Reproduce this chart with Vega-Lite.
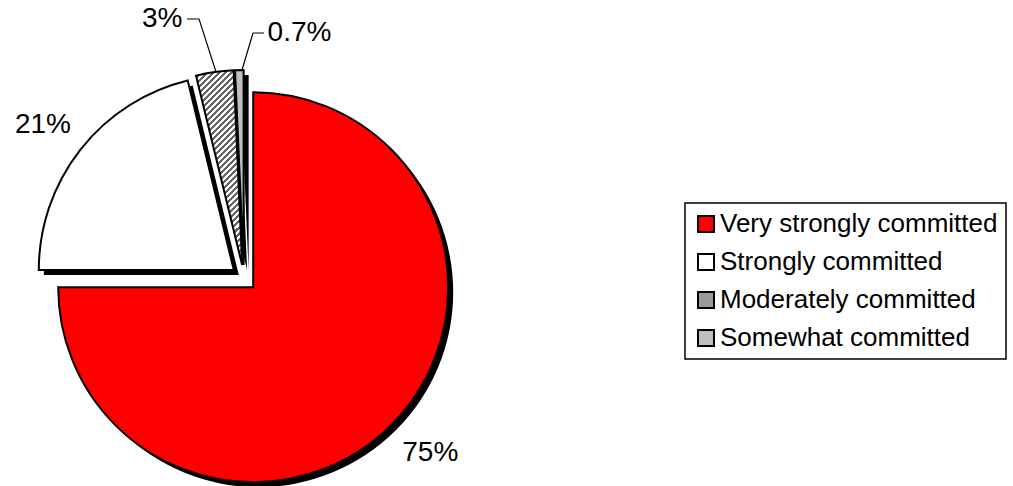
{
  "$schema": "https://vega.github.io/schema/vega-lite/v6.json",
  "width": 488,
  "height": 416,
  "autosize": {"type": "none"},
  "padding": {"left": 0, "top": 70, "right": 525, "bottom": 0},
  "background": "white",
  "config": {"view": {"stroke": null}, "font": "Liberation Sans"},
  "data": {"values": [
    {"cat": "Very strongly committed", "value": 75.0, "label": "75%", "idx": 1},
    {"cat": "Strongly committed", "value": 21.2, "label": "21%", "idx": 2},
    {"cat": "Moderately committed", "value": 3.1, "label": "3%", "idx": 3},
    {"cat": "Somewhat committed", "value": 0.7, "label": "0.7%", "idx": 4}
  ]},
  "transform": [{"stack": "value", "groupby": [], "sort": [{"field": "idx", "order": "ascending"}], "as": ["t0", "t1"]}],
  "layer": [
    {"transform": [{"filter": "datum.idx === 1"}], "mark": {"type": "arc", "outerRadius": 195, "fill": "black", "xOffset": 14.2, "yOffset": 14.2}, "encoding": {"theta": {"field": "t0", "type": "quantitative", "scale": {"domain": [0, 100]}}, "theta2": {"field": "t1"}}},
    {"transform": [{"filter": "datum.idx === 2"}], "mark": {"type": "arc", "outerRadius": 195, "fill": "black", "xOffset": -5.2, "yOffset": -3.0}, "encoding": {"theta": {"field": "t0", "type": "quantitative", "scale": {"domain": [0, 100]}}, "theta2": {"field": "t1"}}},
    {"transform": [{"filter": "datum.idx === 3"}], "mark": {"type": "arc", "outerRadius": 195, "fill": "black", "xOffset": 3.15, "yOffset": -7.87}, "encoding": {"theta": {"field": "t0", "type": "quantitative", "scale": {"domain": [0, 100]}}, "theta2": {"field": "t1"}}},
    {"transform": [{"filter": "datum.idx === 4"}], "mark": {"type": "arc", "outerRadius": 195, "fill": "black", "xOffset": 4.61, "yOffset": -8.0}, "encoding": {"theta": {"field": "t0", "type": "quantitative", "scale": {"domain": [0, 100]}}, "theta2": {"field": "t1"}}},
    {"transform": [{"filter": "datum.idx === 1 || datum.idx === 2 || datum.idx === 4"}], "mark": {"type": "arc", "outerRadius": 195, "stroke": "black", "strokeWidth": 2, "opacity": 0}, "encoding": {"theta": {"field": "t0", "type": "quantitative", "scale": {"domain": [0, 100]}}, "theta2": {"field": "t1"},
      "color": {"field": "cat", "type": "nominal",
        "scale": {"domain": ["Very strongly committed", "Strongly committed", "Moderately committed", "Somewhat committed"], "range": ["#ff0000", "#ffffff", "#9a9a9a", "#c0c0c0"]},
        "legend": {"title": null, "orient": "none", "legendX": 685, "legendY": 133, "symbolType": "square", "symbolSize": 256, "symbolStrokeColor": "black", "symbolStrokeWidth": 2, "symbolOpacity": 1, "labelFontSize": 26, "labelFont": "Liberation Sans", "labelColor": "black", "labelOffset": 1, "rowPadding": 12, "padding": 8, "strokeColor": "black", "fillColor": "white", "labelLimit": 400,
          "encode": {
            "legend": {"update": {"strokeWidth": {"value": 1.5}}},
            "symbols": {"update": {"stroke": {"value": "black"}, "strokeWidth": {"value": 2}, "opacity": {"value": 1}}}}
        }}}},
    {"transform": [{"filter": "datum.idx === 1"}], "mark": {"type": "arc", "outerRadius": 195, "stroke": "black", "strokeWidth": 2, "fill": "#ff0000", "xOffset": 9.2, "yOffset": 9.2}, "encoding": {"theta": {"field": "t0", "type": "quantitative", "scale": {"domain": [0, 100]}}, "theta2": {"field": "t1"}}},
    {"transform": [{"filter": "datum.idx === 2"}], "mark": {"type": "arc", "outerRadius": 195, "stroke": "black", "strokeWidth": 2, "fill": "#ffffff", "xOffset": -10.2, "yOffset": -8.0}, "encoding": {"theta": {"field": "t0", "type": "quantitative", "scale": {"domain": [0, 100]}}, "theta2": {"field": "t1"}}},
    {"transform": [{"filter": "datum.idx === 3"}], "mark": {"type": "arc", "outerRadius": 195, "stroke": "black", "strokeWidth": 2, "xOffset": -1.85, "yOffset": -12.87,
      "fill": {"gradient": "linear", "x1": 0, "y1": 0, "x2": 0.276, "y2": 1.17, "stops": [
        {"offset": 0, "color": "#666"},
        {"offset": 0.0125, "color": "#666"}, {"offset": 0.0125, "color": "#fff"},
        {"offset": 0.025, "color": "#fff"}, {"offset": 0.025, "color": "#666"},
        {"offset": 0.0375, "color": "#666"}, {"offset": 0.0375, "color": "#fff"},
        {"offset": 0.05, "color": "#fff"}, {"offset": 0.05, "color": "#666"},
        {"offset": 0.0625, "color": "#666"}, {"offset": 0.0625, "color": "#fff"},
        {"offset": 0.075, "color": "#fff"}, {"offset": 0.075, "color": "#666"},
        {"offset": 0.0875, "color": "#666"}, {"offset": 0.0875, "color": "#fff"},
        {"offset": 0.1, "color": "#fff"}, {"offset": 0.1, "color": "#666"},
        {"offset": 0.1125, "color": "#666"}, {"offset": 0.1125, "color": "#fff"},
        {"offset": 0.125, "color": "#fff"}, {"offset": 0.125, "color": "#666"},
        {"offset": 0.1375, "color": "#666"}, {"offset": 0.1375, "color": "#fff"},
        {"offset": 0.15, "color": "#fff"}, {"offset": 0.15, "color": "#666"},
        {"offset": 0.1625, "color": "#666"}, {"offset": 0.1625, "color": "#fff"},
        {"offset": 0.175, "color": "#fff"}, {"offset": 0.175, "color": "#666"},
        {"offset": 0.1875, "color": "#666"}, {"offset": 0.1875, "color": "#fff"},
        {"offset": 0.2, "color": "#fff"}, {"offset": 0.2, "color": "#666"},
        {"offset": 0.2125, "color": "#666"}, {"offset": 0.2125, "color": "#fff"},
        {"offset": 0.225, "color": "#fff"}, {"offset": 0.225, "color": "#666"},
        {"offset": 0.2375, "color": "#666"}, {"offset": 0.2375, "color": "#fff"},
        {"offset": 0.25, "color": "#fff"}, {"offset": 0.25, "color": "#666"},
        {"offset": 0.2625, "color": "#666"}, {"offset": 0.2625, "color": "#fff"},
        {"offset": 0.275, "color": "#fff"}, {"offset": 0.275, "color": "#666"},
        {"offset": 0.2875, "color": "#666"}, {"offset": 0.2875, "color": "#fff"},
        {"offset": 0.3, "color": "#fff"}, {"offset": 0.3, "color": "#666"},
        {"offset": 0.3125, "color": "#666"}, {"offset": 0.3125, "color": "#fff"},
        {"offset": 0.325, "color": "#fff"}, {"offset": 0.325, "color": "#666"},
        {"offset": 0.3375, "color": "#666"}, {"offset": 0.3375, "color": "#fff"},
        {"offset": 0.35, "color": "#fff"}, {"offset": 0.35, "color": "#666"},
        {"offset": 0.3625, "color": "#666"}, {"offset": 0.3625, "color": "#fff"},
        {"offset": 0.375, "color": "#fff"}, {"offset": 0.375, "color": "#666"},
        {"offset": 0.3875, "color": "#666"}, {"offset": 0.3875, "color": "#fff"},
        {"offset": 0.4, "color": "#fff"}, {"offset": 0.4, "color": "#666"},
        {"offset": 0.4125, "color": "#666"}, {"offset": 0.4125, "color": "#fff"},
        {"offset": 0.425, "color": "#fff"}, {"offset": 0.425, "color": "#666"},
        {"offset": 0.4375, "color": "#666"}, {"offset": 0.4375, "color": "#fff"},
        {"offset": 0.45, "color": "#fff"}, {"offset": 0.45, "color": "#666"},
        {"offset": 0.4625, "color": "#666"}, {"offset": 0.4625, "color": "#fff"},
        {"offset": 0.475, "color": "#fff"}, {"offset": 0.475, "color": "#666"},
        {"offset": 0.4875, "color": "#666"}, {"offset": 0.4875, "color": "#fff"},
        {"offset": 0.5, "color": "#fff"}, {"offset": 0.5, "color": "#666"},
        {"offset": 0.5125, "color": "#666"}, {"offset": 0.5125, "color": "#fff"},
        {"offset": 0.525, "color": "#fff"}, {"offset": 0.525, "color": "#666"},
        {"offset": 0.5375, "color": "#666"}, {"offset": 0.5375, "color": "#fff"},
        {"offset": 0.55, "color": "#fff"}, {"offset": 0.55, "color": "#666"},
        {"offset": 0.5625, "color": "#666"}, {"offset": 0.5625, "color": "#fff"},
        {"offset": 0.575, "color": "#fff"}, {"offset": 0.575, "color": "#666"},
        {"offset": 0.5875, "color": "#666"}, {"offset": 0.5875, "color": "#fff"},
        {"offset": 0.6, "color": "#fff"}, {"offset": 0.6, "color": "#666"},
        {"offset": 0.6125, "color": "#666"}, {"offset": 0.6125, "color": "#fff"},
        {"offset": 0.625, "color": "#fff"}, {"offset": 0.625, "color": "#666"},
        {"offset": 0.6375, "color": "#666"}, {"offset": 0.6375, "color": "#fff"},
        {"offset": 0.65, "color": "#fff"}, {"offset": 0.65, "color": "#666"},
        {"offset": 0.6625, "color": "#666"}, {"offset": 0.6625, "color": "#fff"},
        {"offset": 0.675, "color": "#fff"}, {"offset": 0.675, "color": "#666"},
        {"offset": 0.6875, "color": "#666"}, {"offset": 0.6875, "color": "#fff"},
        {"offset": 0.7, "color": "#fff"}, {"offset": 0.7, "color": "#666"},
        {"offset": 0.7125, "color": "#666"}, {"offset": 0.7125, "color": "#fff"},
        {"offset": 0.725, "color": "#fff"}, {"offset": 0.725, "color": "#666"},
        {"offset": 0.7375, "color": "#666"}, {"offset": 0.7375, "color": "#fff"},
        {"offset": 0.75, "color": "#fff"}, {"offset": 0.75, "color": "#666"},
        {"offset": 0.7625, "color": "#666"}, {"offset": 0.7625, "color": "#fff"},
        {"offset": 0.775, "color": "#fff"}, {"offset": 0.775, "color": "#666"},
        {"offset": 0.7875, "color": "#666"}, {"offset": 0.7875, "color": "#fff"},
        {"offset": 0.8, "color": "#fff"}, {"offset": 0.8, "color": "#666"},
        {"offset": 0.8125, "color": "#666"}, {"offset": 0.8125, "color": "#fff"},
        {"offset": 0.825, "color": "#fff"}, {"offset": 0.825, "color": "#666"},
        {"offset": 0.8375, "color": "#666"}, {"offset": 0.8375, "color": "#fff"},
        {"offset": 0.85, "color": "#fff"}, {"offset": 0.85, "color": "#666"},
        {"offset": 0.8625, "color": "#666"}, {"offset": 0.8625, "color": "#fff"},
        {"offset": 0.875, "color": "#fff"}, {"offset": 0.875, "color": "#666"},
        {"offset": 0.8875, "color": "#666"}, {"offset": 0.8875, "color": "#fff"},
        {"offset": 0.9, "color": "#fff"}, {"offset": 0.9, "color": "#666"},
        {"offset": 0.9125, "color": "#666"}, {"offset": 0.9125, "color": "#fff"},
        {"offset": 0.925, "color": "#fff"}, {"offset": 0.925, "color": "#666"},
        {"offset": 0.9375, "color": "#666"}, {"offset": 0.9375, "color": "#fff"},
        {"offset": 0.95, "color": "#fff"}, {"offset": 0.95, "color": "#666"},
        {"offset": 0.9625, "color": "#666"}, {"offset": 0.9625, "color": "#fff"},
        {"offset": 0.975, "color": "#fff"}, {"offset": 0.975, "color": "#666"},
        {"offset": 0.9875, "color": "#666"}, {"offset": 0.9875, "color": "#fff"},
        {"offset": 1, "color": "#fff"}
      ]}}, "encoding": {"theta": {"field": "t0", "type": "quantitative", "scale": {"domain": [0, 100]}}, "theta2": {"field": "t1"}}},
    {"transform": [{"filter": "datum.idx === 4"}], "mark": {"type": "arc", "outerRadius": 195, "stroke": "black", "strokeWidth": 2, "fill": "#c0c0c0", "xOffset": -0.39, "yOffset": -13.0}, "encoding": {"theta": {"field": "t0", "type": "quantitative", "scale": {"domain": [0, 100]}}, "theta2": {"field": "t1"}}},
    {"transform": [{"filter": "datum.idx === 3"}], "mark": {"type": "arc", "innerRadius": 200, "outerRadius": 255.7, "thetaOffset": -0.0717, "theta2Offset": -0.0717, "xOffset": 33.1, "yOffset": -15.6, "filled": false, "stroke": "black", "strokeWidth": 1.2}, "encoding": {"theta": {"field": "t0", "type": "quantitative", "scale": {"domain": [0, 100]}}, "theta2": {"field": "t0"}}},
    {"transform": [{"filter": "datum.idx === 3"}], "mark": {"type": "arc", "innerRadius": 40, "outerRadius": 52, "thetaOffset": -1.332, "theta2Offset": -1.332, "xOffset": -5, "yOffset": -259, "filled": false, "stroke": "black", "strokeWidth": 1.2}, "encoding": {"theta": {"field": "t0", "type": "quantitative", "scale": {"domain": [0, 100]}}, "theta2": {"field": "t0"}}},
    {"transform": [{"filter": "datum.idx === 4"}], "mark": {"type": "arc", "innerRadius": 200, "outerRadius": 238.6, "thetaOffset": 0.333, "theta2Offset": 0.333, "xOffset": -59, "yOffset": -16.3, "filled": false, "stroke": "black", "strokeWidth": 1.2}, "encoding": {"theta": {"field": "t0", "type": "quantitative", "scale": {"domain": [0, 100]}}, "theta2": {"field": "t0"}}},
    {"transform": [{"filter": "datum.idx === 4"}], "mark": {"type": "arc", "innerRadius": 40, "outerRadius": 51, "thetaOffset": 1.6148, "theta2Offset": 1.6148, "xOffset": -31, "yOffset": -245, "filled": false, "stroke": "black", "strokeWidth": 1.2}, "encoding": {"theta": {"field": "t0", "type": "quantitative", "scale": {"domain": [0, 100]}}, "theta2": {"field": "t0"}}},
    {"mark": {"type": "text", "radius": 254, "fontSize": 28, "font": "Liberation Sans", "color": "black", "align": "center", "baseline": "middle", "dx": 6.7, "dy": -4.6}, "encoding": {"theta": {"field": "value", "type": "quantitative", "stack": true, "scale": {"domain": [0, 100]}}, "order": {"field": "idx", "type": "quantitative"}, "detail": {"field": "cat"}, "text": {"condition": {"test": "datum.idx === 1", "field": "label"}, "value": ""}}},
    {"mark": {"type": "text", "radius": 254, "fontSize": 28, "font": "Liberation Sans", "color": "black", "align": "center", "baseline": "middle", "dx": -1.3, "dy": 4.4}, "encoding": {"theta": {"field": "value", "type": "quantitative", "stack": true, "scale": {"domain": [0, 100]}}, "order": {"field": "idx", "type": "quantitative"}, "detail": {"field": "cat"}, "text": {"condition": {"test": "datum.idx === 2", "field": "label"}, "value": ""}}},
    {"mark": {"type": "text", "radius": 273, "fontSize": 28, "font": "Liberation Sans", "color": "black", "align": "center", "baseline": "middle", "dx": -43.4, "dy": 11.2}, "encoding": {"theta": {"field": "value", "type": "quantitative", "stack": true, "scale": {"domain": [0, 100]}}, "order": {"field": "idx", "type": "quantitative"}, "detail": {"field": "cat"}, "text": {"condition": {"test": "datum.idx === 3", "field": "label"}, "value": ""}}},
    {"mark": {"type": "text", "radius": 250, "fontSize": 28, "font": "Liberation Sans", "color": "black", "align": "center", "baseline": "middle", "dx": 61, "dy": 5.2}, "encoding": {"theta": {"field": "value", "type": "quantitative", "stack": true, "scale": {"domain": [0, 100]}}, "order": {"field": "idx", "type": "quantitative"}, "detail": {"field": "cat"}, "text": {"condition": {"test": "datum.idx === 4", "field": "label"}, "value": ""}}}
  ]
}
